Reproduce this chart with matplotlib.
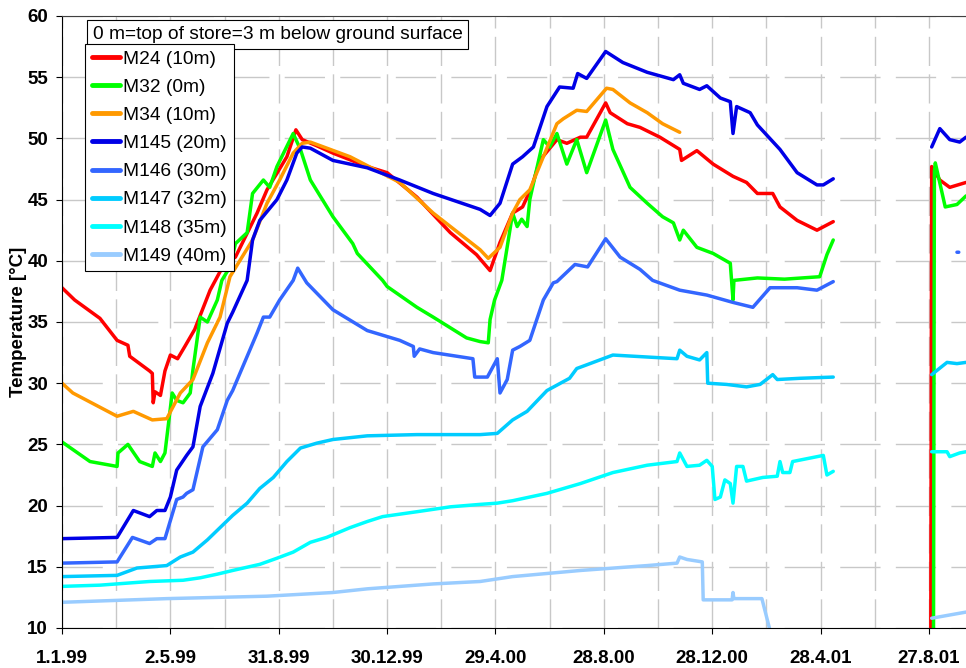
""" Store temperatures at different depths, 1999 - 2001. """

import numpy as np
import matplotlib
matplotlib.use('Agg')
import matplotlib.pyplot as plt
from matplotlib.ticker import MultipleLocator

nan = np.nan

# x values are days after 1.1.99
tick_days = [0, 120, 240, 360, 480, 600, 720, 840, 960]
tick_labels = ['1.1.99', '2.5.99', '31.8.99', '30.12.99', '29.4.00',
               '28.8.00', '28.12.00', '28.4.01', '27.8.01']

m24_days = [0, 14, 42, 61, 73, 75, 97, 100, 101, 103, 109, 114, 120, 128, 136,
            147, 164, 180, 192, 216, 227, 249, 259, 266, 282, 300, 338, 360,
            393, 430, 459, 474, 485, 499, 510, 520, 529, 548, 559, 574, 581,
            602, 607, 626, 640, 662, 684, 686, 703, 721, 743, 758, 770, 787,
            795, 814, 836, 854, nan, 962, 963, 972, 983, 1001]
m24_temp = [37.8, 36.8, 35.3, 33.5, 33.1, 32.2, 31.0, 30.8, 28.4, 29.3, 29.0,
            31.0, 32.3, 32.0, 33.0, 34.4, 37.6, 39.8, 40.3, 43.9, 45.8, 48.5,
            50.7, 49.9, 49.4, 48.8, 47.7, 47.2, 45.2, 42.3, 40.5, 39.2, 41.5,
            43.9, 44.4, 46.0, 48.2, 49.9, 49.6, 50.1, 50.1, 52.9, 52.1, 51.2,
            50.9, 50.1, 49.1, 48.2, 49.0, 47.9, 46.9, 46.4, 45.5, 45.5, 44.4,
            43.3, 42.5, 43.2, nan, 9.0, 47.7, 46.6, 46.0, 46.4]

m32_days = [0, 31, 61, 62, 73, 86, 100, 103, 109, 114, 122, 127, 134, 142, 145,
            153, 161, 172, 177, 186, 192, 205, 211, 223, 230, 238, 256, 264,
            275, 300, 322, 327, 355, 360, 393, 411, 448, 463, 472, 474, 479,
            487, 499, 504, 509, 515, 518, 533, 540, 548, 559, 570, 581, 602,
            610, 629, 648, 665, 677, 684, 688, 703, 721, 740, 743, 744, 770,
            800, 839, 847, 854, nan, 965, 966, 967, 978, 991, 1001]
m32_temp = [25.2, 23.6, 23.2, 24.3, 25.0, 23.6, 23.2, 24.3, 23.6, 24.3, 29.2,
            28.6, 28.4, 29.2, 31.1, 35.4, 35.0, 36.8, 38.4, 39.5, 41.4, 42.3,
            45.5, 46.6, 46.0, 47.7, 50.4, 49.1, 46.6, 43.6, 41.4, 40.6, 38.4,
            37.9, 36.2, 35.4, 33.7, 33.4, 33.3, 35.2, 36.8, 38.4, 43.9, 42.8,
            43.4, 42.8, 45.0, 49.9, 49.3, 50.4, 47.9, 49.9, 47.2, 51.5, 49.1,
            46.0, 44.7, 43.6, 43.1, 41.7, 42.5, 41.1, 40.6, 39.8, 36.8, 38.4,
            38.6, 38.5, 38.7, 40.5, 41.7, nan, 9.0, 47.3, 48.0, 44.4, 44.6,
            45.3]

m34_days = [0, 12, 61, 79, 100, 116, 131, 145, 161, 175, 186, 211, 227, 241,
            256, 266, 275, 319, 374, 411, 463, 472, 485, 499, 507, 518, 533,
            548, 555, 570, 581, 603, 610, 629, 648, 665, 684]
m34_temp = [30.0, 29.2, 27.3, 27.7, 27.0, 27.1, 29.2, 30.3, 33.3, 35.4, 38.7,
            41.7, 44.7, 46.6, 48.8, 49.6, 49.7, 48.5, 46.4, 43.9, 40.9, 40.2,
            41.1, 43.9, 45.0, 45.8, 48.5, 51.2, 51.6, 52.3, 52.2, 54.1, 54.0,
            52.9, 52.1, 51.2, 50.5]

m145_days = [0, 61, 79, 97, 105, 114, 120, 127, 138, 145, 153, 167, 183, 189,
             205, 211, 219, 238, 249, 260, 266, 275, 300, 338, 374, 411, 463,
             474, 485, 499, 510, 522, 537, 551, 566, 571, 581, 602, 621, 648,
             677, 684, 688, 706, 714, 729, 740, 743, 747, 762, 770, 795, 814,
             836, 843, 854, nan, 963, 972, 983, 994, 1001]
m145_temp = [17.3, 17.4, 19.6, 19.1, 19.6, 19.6, 20.7, 22.9, 24.1, 24.8, 28.1,
             30.8, 34.9, 35.8, 38.4, 41.7, 43.3, 45.0, 46.6, 48.8, 49.3, 49.2,
             48.2, 47.6, 46.6, 45.5, 44.2, 43.7, 44.7, 47.9, 48.5, 49.3, 52.6,
             54.2, 54.1, 55.3, 54.9, 57.1, 56.2, 55.4, 54.8, 55.2, 54.5, 54.0,
             54.3, 53.3, 53.0, 50.4, 52.6, 52.1, 51.1, 49.1, 47.2, 46.2, 46.2,
             46.7, nan, 49.3, 50.8, 49.9, 49.7, 50.1]

m146_days = [0, 61, 78, 97, 105, 114, 127, 134, 138, 145, 156, 172, 183, 189,
             197, 216, 223, 230, 241, 256, 261, 271, 300, 338, 374, 389, 390,
             396, 411, 455, 457, 471, 482, 485, 493, 499, 507, 518, 533, 544,
             548, 568, 582, 602, 618, 640, 654, 684, 714, 743, 765, 784, 814,
             836, 854, nan, 991, 993]
m146_temp = [15.3, 15.4, 17.4, 16.9, 17.3, 17.3, 20.5, 20.7, 21.0, 21.3, 24.8,
             26.2, 28.6, 29.4, 30.8, 34.1, 35.4, 35.4, 36.8, 38.4, 39.4, 38.2,
             36.0, 34.3, 33.5, 33.0, 32.2, 32.8, 32.5, 32.0, 30.5, 30.5, 32.0,
             29.2, 30.3, 32.7, 33.0, 33.5, 36.8, 38.2, 38.3, 39.7, 39.5, 41.8,
             40.3, 39.3, 38.4, 37.6, 37.2, 36.6, 36.2, 37.8, 37.8, 37.6, 38.3,
             nan, 40.7, 40.7]

m147_days = [0, 61, 83, 116, 131, 145, 161, 175, 189, 205, 219, 234, 249, 264,
             282, 300, 338, 393, 463, 482, 499, 515, 537, 562, 570, 581, 610,
             681, 684, 692, 706, 714, 715, 736, 758, 773, 787, 792, 817, 854,
             nan, 963, 980, 991, 1001]
m147_temp = [14.2, 14.3, 14.9, 15.1, 15.8, 16.2, 17.2, 18.2, 19.2, 20.2, 21.4,
             22.3, 23.6, 24.7, 25.1, 25.4, 25.7, 25.8, 25.8, 25.9, 27.0, 27.7,
             29.4, 30.4, 31.2, 31.5, 32.3, 32.0, 32.7, 32.2, 31.9, 32.5, 30.0,
             29.9, 29.7, 29.9, 30.7, 30.3, 30.4, 30.5, nan, 30.7, 31.7, 31.6,
             31.7]

m148_days = [0, 42, 97, 134, 153, 172, 189, 219, 238, 256, 275, 293, 319, 338,
             355, 393, 430, 463, 482, 499, 537, 574, 610, 648, 681, 684, 692,
             706, 714, 720, 723, 729, 734, 740, 743, 747, 754, 758, 776, 792,
             795, 798, 806, 809, 843, 847, 854, nan, 963, 980, 983, 994, 1001]
m148_temp = [13.4, 13.5, 13.8, 13.9, 14.1, 14.4, 14.7, 15.2, 15.7, 16.2, 17.0,
             17.4, 18.2, 18.7, 19.1, 19.5, 19.9, 20.1, 20.2, 20.4, 21.0, 21.8,
             22.7, 23.3, 23.6, 24.3, 23.2, 23.3, 23.7, 23.2, 20.5, 20.7, 22.1,
             21.8, 20.2, 23.2, 23.2, 22.0, 22.3, 22.4, 23.6, 22.7, 22.7, 23.6,
             24.1, 22.5, 22.8, nan, 24.4, 24.4, 24.0, 24.3, 24.4]

m149_days = [0, 116, 227, 300, 338, 411, 463, 499, 574, 648, 681, 684, 692,
             709, 710, 721, 742, 743, 744, 775, 784, nan, 963, 1001]
m149_temp = [12.1, 12.4, 12.6, 12.9, 13.2, 13.6, 13.8, 14.2, 14.7, 15.1, 15.3,
             15.8, 15.6, 15.4, 12.3, 12.3, 12.3, 12.9, 12.4, 12.4, 9.8, nan,
             10.8, 11.3]

series = [
    ('M24 (10m)', m24_days, m24_temp, '#FF0000'),
    ('M32 (0m)', m32_days, m32_temp, '#00FF00'),
    ('M34 (10m)', m34_days, m34_temp, '#FF9900'),
    ('M145 (20m)', m145_days, m145_temp, '#0000E6'),
    ('M146 (30m)', m146_days, m146_temp, '#3366FF'),
    ('M147 (32m)', m147_days, m147_temp, '#00CCFF'),
    ('M148 (35m)', m148_days, m148_temp, '#00FFFF'),
    ('M149 (40m)', m149_days, m149_temp, '#99CCFF'),
]


def main():
    """ Draw the chart and save it as out.png. """
    plt.rcParams['font.family'] = ['Liberation Sans', 'DejaVu Sans']

    fig = plt.figure(figsize=(9.66, 6.68), dpi=100)
    ax = fig.add_axes([62 / 966, 40 / 668, 904 / 966, 612 / 668])

    for name, days, temps, color in series:
        ax.plot(days, temps, color=color, lw=2.5, label=name,
                solid_joinstyle='round', solid_capstyle='round')

    ax.set_xlim(0, 1001)
    ax.set_ylim(10, 60)

    # Axes, ticks and grid
    ax.set_xticks(tick_days)
    ax.set_xticklabels(tick_labels, fontweight='bold', fontsize=13.5)
    ax.xaxis.set_minor_locator(MultipleLocator(60))
    ax.yaxis.set_major_locator(MultipleLocator(5))
    for lab in ax.get_yticklabels():
        lab.set_fontweight('bold')
        lab.set_fontsize(13.5)
    ax.tick_params(axis='x', which='major', length=4, pad=12, direction='out')
    ax.tick_params(axis='x', which='minor', length=0)
    ax.tick_params(axis='y', length=4, pad=6, direction='out')
    ax.grid(True, which='both', axis='x', color='#C8C8C8', lw=1,
            linestyle=(0, (21, 6)))
    ax.grid(True, which='major', axis='y', color='#C8C8C8', lw=1,
            linestyle=(0, (29, 11)))
    ax.set_axisbelow(True)
    ax.spines['right'].set_visible(False)
    ax.spines['top'].set_color('#404040')

    ax.set_ylabel('Temperature [°C]', fontweight='bold', fontsize=13.5,
                  labelpad=0)

    # Note and legend
    ax.text(0.034, 0.984, '0 m=top of store=3 m below ground surface',
            transform=ax.transAxes, ha='left', va='top', fontsize=13.8,
            bbox=dict(boxstyle='square,pad=0.3', fc='white', ec='black',
                      lw=0.8))
    leg = ax.legend(loc='upper left', bbox_to_anchor=(0.0254, 0.955),
                    borderaxespad=0, fontsize=13.8, handlelength=1.5,
                    handletextpad=0.15, labelspacing=0.56, borderpad=0.35,
                    fancybox=False, framealpha=1, edgecolor='black')
    leg.get_frame().set_linewidth(0.8)
    for line in leg.get_lines():
        line.set_linewidth(3.5)

    fig.savefig('out.png', dpi=100)


if __name__ == '__main__':
    main()
